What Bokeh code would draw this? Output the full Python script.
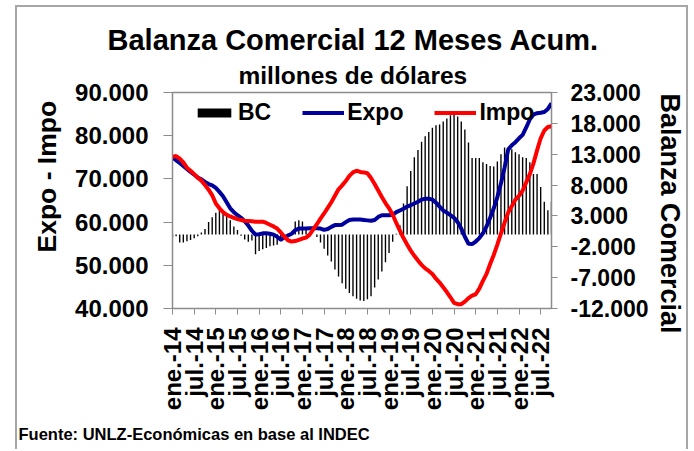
from bokeh.plotting import figure
from bokeh.models import (Range1d, LinearAxis, FixedTicker, Legend, LegendItem, Title)
from bokeh.embed import file_html
from bokeh.resources import INLINE

# ---- data (millions of US$, 12-month rolling sums, monthly ene-14 .. oct-22) ----
MONTHS = list(range(106))  # month index from ene-14

EXPO = [75000, 74300, 73700, 73000, 72300, 71600, 71000, 70300, 69900, 69300,
        68800, 68500, 67900, 67000, 66000, 64600, 63200, 62300, 61600, 61000,
        60200, 59200, 58000, 57100, 57200, 57400, 57400, 57300, 57100, 56600,
        55900, 56500, 56900, 57300, 58100, 58500, 58500, 58500, 58600, 58600,
        58600, 58500, 58200, 58400, 58900, 59300, 59300, 59400, 60000, 60500,
        60600, 60600, 60600, 60500, 60400, 60300, 60500, 61200, 61600, 61600,
        61600, 61700, 62300, 62700, 63100, 63600, 63900, 64300, 64700, 65200,
        65400, 65400, 65200, 64500, 63600, 62700, 62200, 61600, 61000, 60000,
        58500, 56600, 55000, 54900, 55500, 56300, 57400, 59000, 61000, 63200,
        65800, 69000, 72600, 76800, 77800, 78500, 79400, 80200, 81900, 83800,
        84900, 85200, 85300, 85500, 86200, 87500]

IMPO = [75100, 75300, 74700, 73800, 72600, 71900, 71100, 70300, 69600, 68600,
        67500, 66200, 64300, 63200, 62300, 61700, 61300, 61000, 60700, 60500,
        60300, 60250, 60200, 60100, 60100, 60100, 59800, 59400, 59000, 58500,
        57600, 56600, 55800, 55500, 55600, 55900, 56200, 56400, 57100, 58300,
        59500, 60800, 62000, 63300, 64600, 66100, 67600, 68500, 69500, 70700,
        71500, 71900, 71600, 71500, 71300, 70200, 68800, 67300, 65800, 64400,
        63200, 61700, 59800, 58000, 56300, 54800, 53400, 52200, 51100, 50100,
        49300, 48700, 48000, 46900, 46000, 44900, 43800, 42600, 41300, 41000,
        41000, 41600, 42400, 43000, 43300, 44600, 46400, 48000, 50300, 52400,
        54800, 57400, 59900, 62200, 63700, 65200, 66100, 67300, 69200, 71100,
        73600, 76600, 79400, 81200, 82000, 82200]

BC = [-400, -300, -1300, -1300, -1100, -900, -600, -300, 300, 900,
      2000, 2800, 3500, 3900, 3700, 3100, 2300, 1300, 700, -200,
      -800, -1200, -1000, -3200, -2700, -2400, -2200, -1900, -1800, -1650,
      -1100, -500, 100, 150, 2100, 2300, 2100, 1000, 200, 0,
      -400, -1300, -2300, -3400, -4400, -5700, -6800, -7900, -8800, -9500,
      -10000, -10400, -10700, -10800, -10500, -10000, -8600, -7300, -6000, -4500,
      -3000, -1200, 100, 1500, 5000, 7800, 10300, 12500, 13700, 15000,
      15900, 16600, 17300, 17700, 17800, 18300, 18800, 19300, 19500, 19100,
      18300, 17000, 14900, 12400, 12400, 12400, 11700, 11400, 11100, 11000,
      11800, 13000, 14100, 14100, 13800, 13300, 13000, 12500, 12400, 11700,
      9800, 9800, 7700, 5300, 3900, 5300]

X_TICKS = list(range(0, 106, 6))
X_TICK_LABELS = ["ene.-14", "jul.-14", "ene.-15", "jul.-15", "ene.-16", "jul.-16",
                 "ene.-17", "jul.-17", "ene.-18", "jul.-18", "ene.-19", "jul.-19",
                 "ene.-20", "jul.-20", "ene.-21", "jul.-21", "ene.-22", "jul.-22"]
LEFT_TICKS = [40000, 50000, 60000, 70000, 80000, 90000]
LEFT_TICK_LABELS = ["40.000", "50.000", "60.000", "70.000", "80.000", "90.000"]
RIGHT_TICKS = [-12000, -7000, -2000, 3000, 8000, 13000, 18000, 23000]
RIGHT_TICK_LABELS = ["-12.000", "-7.000", "-2.000", "3.000", "8.000",
                     "13.000", "18.000", "23.000"]

FONT = "Liberation Sans"
GRAY = "#8c8c8c"

p = figure(width=673, height=444, output_backend="svg", toolbar_location=None,
           x_range=Range1d(0, 105), y_range=Range1d(40000, 90000),
           min_border_left=155, min_border_right=139, min_border_top=85,
           min_border_bottom=140)
p.styles = {"margin-left": "15px", "margin-top": "5px",
            "border-left": "2px solid #a6a6a6", "border-right": "2px solid #a6a6a6",
            "border-top": "2px solid #a6a6a6"}
p.extra_y_ranges = {"bc": Range1d(-12000, 23000)}
p.xgrid.visible = False
p.ygrid.visible = False
p.outline_line_color = GRAY
p.outline_line_width = 1.5
p.background_fill_color = "white"
p.border_fill_color = "white"

bars = p.vbar(x=MONTHS, top=BC, bottom=0, width=0.38, y_range_name="bc",
              fill_color="black", line_color=None)
l_expo = p.line(MONTHS, EXPO, line_color="#00009c", line_width=4)
l_impo = p.line(MONTHS, IMPO, line_color="#ff0000", line_width=4)

def style_axis(ax):
    ax.axis_line_color = GRAY
    ax.major_tick_line_color = GRAY
    ax.minor_tick_line_color = None
    ax.major_tick_in = 0
    ax.major_label_text_font = FONT
    ax.major_label_text_font_style = "bold"
    ax.major_label_text_color = "black"

# x axis
xa = p.xaxis[0]
style_axis(xa)
xa.ticker = FixedTicker(ticks=X_TICKS)
xa.major_label_overrides = {t: s for t, s in zip(X_TICKS, X_TICK_LABELS)}
xa.major_label_orientation = 3.14159265 / 2
xa.major_label_text_font_size = "24px"
xa.major_tick_out = 6
xa.major_label_standoff = 13

# left axis
ya = p.yaxis[0]
style_axis(ya)
ya.ticker = FixedTicker(ticks=LEFT_TICKS)
ya.major_label_overrides = {t: s for t, s in zip(LEFT_TICKS, LEFT_TICK_LABELS)}
ya.major_label_text_font_size = "24px"
ya.major_tick_out = 9
ya.major_label_standoff = 15

# right axis
ra = LinearAxis(y_range_name="bc", ticker=FixedTicker(ticks=RIGHT_TICKS))
style_axis(ra)
ra.major_label_overrides = {t: s for t, s in zip(RIGHT_TICKS, RIGHT_TICK_LABELS)}
ra.major_label_text_font_size = "23px"
ra.major_tick_out = 6
ra.major_label_standoff = 13
p.add_layout(ra, "right")

# axis titles (placed as side titles so they can sit off-centre like the original)
p.add_layout(Title(text="Expo - Impo", align="left", offset=56,
                   text_font=FONT, text_font_style="bold", text_font_size="26.5px",
                   text_color="black", standoff=22), "left")
p.add_layout(Title(text="Balanza Comercial", align="left", offset=1,
                   text_font=FONT, text_font_style="bold", text_font_size="27px",
                   text_color="black", standoff=6), "right")

# legend
legend = Legend(items=[LegendItem(label="BC", renderers=[bars]),
                       LegendItem(label="Expo", renderers=[l_expo]),
                       LegendItem(label="Impo", renderers=[l_impo])],
                orientation="horizontal", location=(21, 182),
                glyph_width=42, glyph_height=11, label_standoff=3, spacing=31,
                padding=0, margin=0, border_line_color=None,
                background_fill_alpha=0,
                label_text_font=FONT, label_text_font_style="bold",
                label_text_font_size="23px", label_text_color="black")
p.add_layout(legend)

# titles (added inner first)
p.add_layout(Title(text="millones de dólares", align="left", offset=66,
                   text_font=FONT, text_font_style="bold", text_font_size="24.5px",
                   text_color="black", standoff=8), "above")
p.add_layout(Title(text="Balanza Comercial 12 Meses Acum.", align="left", offset=-65,
                   text_font=FONT, text_font_style="bold", text_font_size="29px",
                   text_color="black", standoff=0), "above")
p.add_layout(Title(text="Fuente: UNLZ-Económicas en base al INDEC", align="left",
                   offset=-154, text_font=FONT, text_font_style="bold",
                   text_font_size="16.5px", text_color="black", standoff=18), "below")

open("out.html", "w").write(file_html(p, INLINE))
